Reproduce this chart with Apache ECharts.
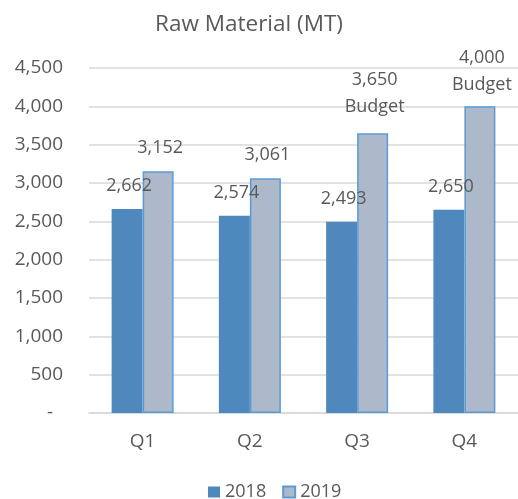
<!DOCTYPE html>
<html>
<head>
<meta charset="utf-8">
<script src="https://cdn.jsdelivr.net/npm/echarts@6/dist/echarts.min.js"></script>
<style>
  html, body { margin: 0; padding: 0; background: #fff; }
  #chart { width: 518px; height: 499px; }
</style>
</head>
<body>
<div id="chart"></div>
<script>
const quarters = ["Q1", "Q2", "Q3", "Q4"];
const values2018 = [2662, 2574, 2493, 2650];
const values2019 = [3152, 3061, 3650, 4000];
const notes2019 = ["", "", "Budget", "Budget"];

const fmt = (v) => v.toLocaleString("en-US");
const textColor = "#595959";
const font = "Open Sans";

const chart = echarts.init(document.getElementById("chart"));

// label distance per 2019 bar (the two budget labels sit a bit differently)
const dist2019 = [10, 10, 13, 8];

const option = {
  backgroundColor: "#fff",
  textStyle: { fontFamily: font },
  title: {
    text: "Raw Material (MT)",
    left: 244,
    textAlign: "center",
    top: 8,
    textStyle: { color: textColor, fontSize: 22.5, fontWeight: "normal", fontFamily: font },
  },
  legend: {
    left: 203,
    top: 478,
    icon: "rect",
    itemWidth: 12,
    itemHeight: 11,
    itemGap: 16,
    textStyle: { color: textColor, fontSize: 18, fontFamily: font },
    data: ["2018", "2019"],
  },
  grid: { left: 89, right: -4, top: 68, bottom: 86 },
  xAxis: {
    type: "category",
    data: quarters,
    axisLine: { lineStyle: { color: "#d9d9d9", width: 1.5 } },
    axisTick: { show: false },
    axisLabel: { color: textColor, fontSize: 19, fontFamily: font, margin: 19 },
  },
  yAxis: {
    type: "value",
    min: 0,
    max: 4500,
    interval: 500,
    axisLine: { show: false },
    axisTick: { show: false },
    splitLine: { lineStyle: { color: "#d9d9d9", width: 1.5 } },
    axisLabel: {
      color: textColor,
      fontSize: 19,
      fontFamily: font,
      margin: 26,
      formatter: (v) => (v === 0 ? "-  " : fmt(v)),
    },
  },
  series: [
    {
      name: "2018",
      type: "bar",
      barWidth: 31,
      barGap: "0%",
      data: values2018,
      itemStyle: { color: "#4f88bd" },
      label: {
        show: true,
        position: "top",
        distance: 14,
        offset: [2, 0],
        color: textColor,
        fontSize: 18,
        fontFamily: font,
        formatter: (p) => fmt(p.value),
      },
    },
    {
      name: "2019",
      type: "bar",
      barWidth: 31,
      data: values2019.map((v, i) => ({ value: v, label: { distance: dist2019[i] } })),
      itemStyle: { color: "#adb9ca", borderColor: "#5b9bd5", borderWidth: 1.5 },
      label: {
        show: true,
        position: "top",
        offset: [2, 0],
        color: textColor,
        fontSize: 18,
        lineHeight: 27,
        fontFamily: font,
        formatter: (p) => {
          const n = notes2019[p.dataIndex];
          return n ? fmt(p.value) + "\n" + n : fmt(p.value);
        },
      },
    },
  ],
};

chart.setOption(option);
</script>
</body>
</html>
